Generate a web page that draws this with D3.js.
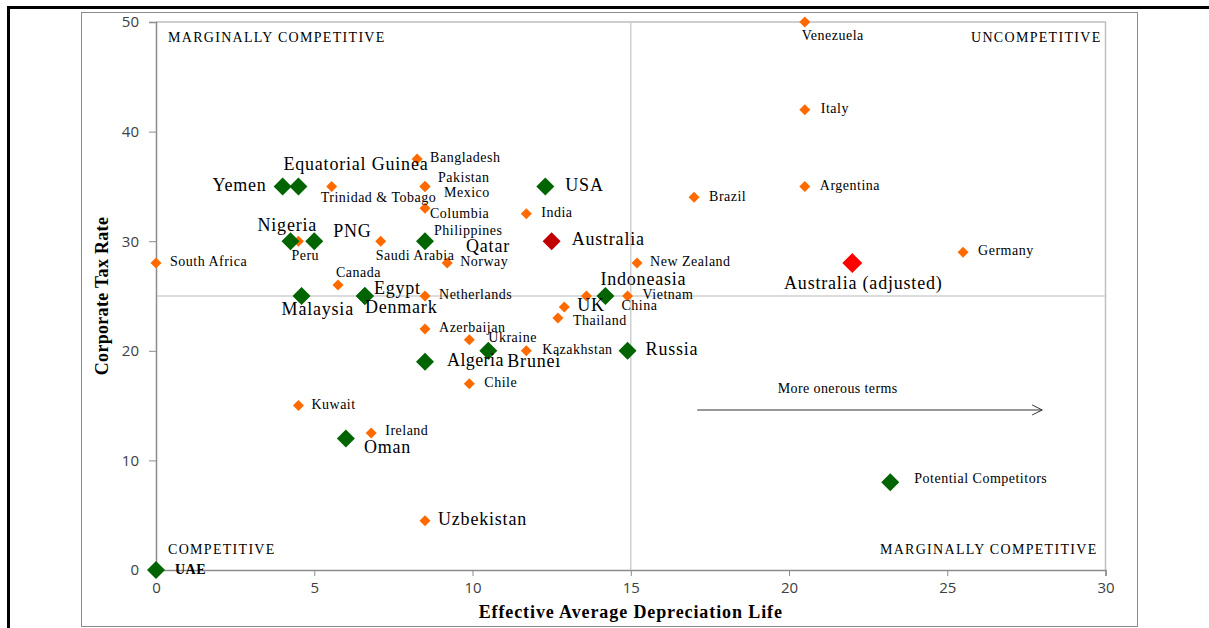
<!DOCTYPE html>
<html><head><meta charset="utf-8">
<script src="https://cdn.jsdelivr.net/npm/d3@7"></script>
<style>
html,body{margin:0;padding:0;background:#fff;}
svg{display:block;}
</style></head>
<body>
<svg id="chart" width="1209" height="628"></svg>
<script>
// ---- data ----
const otherNames = ["Venezuela","Italy","Argentina","Brazil","Germany","New Zealand","Vietnam","China","Bangladesh","Pakistan","Mexico","Trinidad & Tobago","Columbia","India","Saudi Arabia","Peru","South Africa","Norway","Canada","Netherlands","Azerbaijan","Ukraine","Kazakhstan","Chile","Kuwait","Ireland","Uzbekistan","UK","Thailand","Philippines"];
const otherDep   = [20.5,20.5,20.5,17.0,25.5,15.2,14.9,13.6,8.25,8.5,8.5,5.55,8.5,11.7,7.1,4.5,0,9.2,5.75,8.5,8.5,9.9,11.7,9.9,4.5,6.8,8.5,12.9,12.7,8.5];
const otherTax   = [50,42,35,34,29,28,25,25,37.5,35,35,35,33,32.5,30,30,28,28,26,25,22,21,20,17,15,12.5,4.5,24,23,30];

const compNames = ["Yemen","Equatorial Guinea","Nigeria","PNG","Qatar","USA","Malaysia","Egypt","Denmark","Algeria","Brunei","Indoneasia","Russia","Oman","UAE"];
const compDep   = [4.0,4.5,4.25,5.0,8.5,12.3,4.6,6.6,6.6,8.5,10.5,14.2,14.9,6.0,0];
const compTax   = [35,35,30,30,30,35,25,25,25,19,20,25,20,12,0];

const ausNames = ["Australia","Australia (adjusted)"];
const ausDep   = [12.5,22.0];
const ausTax   = [30,28];

const legendName = "Potential Competitors";
const legendDep = 23.2, legendTax = 8;

const xTicks = [0,5,10,15,20,25,30];
const yTicks = [0,10,20,30,40,50];
const quadX = 15, quadY = 25;
const arrowFrom = [17.1,14.6], arrowTo = [28.0,14.6];
const arrowText = "More onerous terms";
const quadLabels = ["MARGINALLY COMPETITIVE","UNCOMPETITIVE","COMPETITIVE","MARGINALLY COMPETITIVE"];
const xTitle = "Effective Average Depreciation Life";
const yTitle = "Corporate Tax Rate";

// ---- label layout (offsets in px from point) ----
const labelPos = {
 "Venezuela":[-3,15,"start"],"Italy":[16,0,"start"],"Argentina":[15,0,"start"],"Brazil":[15,0,"start"],
 "Germany":[15,0,"start"],"New Zealand":[13,0,"start"],"Vietnam":[15,0,"start"],"China":[35,11,"start"],
 "Bangladesh":[13,0,"start"],"Pakistan":[13,-8,"start"],"Mexico":[19,7,"start"],"Trinidad & Tobago":[-11,12,"start"],
 "Columbia":[5,6,"start"],"India":[15,0,"start"],"Saudi Arabia":[-5,16,"start"],"Peru":[-7,16,"start"],
 "South Africa":[14,0,"start"],"Norway":[13,0,"start"],"Canada":[-2,-11,"start"],"Netherlands":[14,0,"start"],
 "Azerbaijan":[14,0,"start"],"Ukraine":[19,-1,"start"],"Kazakhstan":[16,0,"start"],"Chile":[15,0,"start"],
 "Kuwait":[13,0,"start"],"Ireland":[14,-1,"start"],"Uzbekistan":[13,0,"start"],"UK":[13,0,"start"],
 "Thailand":[15,4,"start"],"Philippines":[9,-9,"start"],
 "Yemen":[-16,0,"end"],"Equatorial Guinea":[-15,-21,"start"],"Nigeria":[-33,-14,"start"],"PNG":[19,-8,"start"],
 "Qatar":[41,7,"start"],"USA":[20,0,"start"],"Malaysia":[-20,15,"start"],"Egypt":[9,-6,"start"],
 "Denmark":[0,13,"start"],"Algeria":[22,0,"start"],"Brunei":[19,12,"start"],"Indoneasia":[-5,-15,"start"],
 "Russia":[18,0,"start"],"Oman":[18,10,"start"],"UAE":[19,1,"start"],
 "Australia":[20,0,"start"],"Australia (adjusted)":[11,22,"middle"],
 "Potential Competitors":[24,-3,"start"]
};
const bigOther = new Set(["Uzbekistan","UK"]);

const svg = d3.select("#chart");
const W = 1209, H = 628;
svg.append("rect").attr("width",W).attr("height",H).attr("fill","#fff");

// frame
svg.append("rect").attr("x",81.5).attr("y",12.5).attr("width",1056).attr("height",614)
  .attr("fill","none").attr("stroke","#8c8c8c").attr("stroke-width",1);
svg.append("line").attr("x1",7).attr("x2",W).attr("y1",7.5).attr("y2",7.5).attr("stroke","#000").attr("stroke-width",3);
svg.append("line").attr("x1",8.5).attr("x2",8.5).attr("y1",6).attr("y2",H).attr("stroke","#000").attr("stroke-width",3);

const x = d3.scaleLinear().domain([0,30]).range([156,1105.5]);
const y = d3.scaleLinear().domain([0,50]).range([570,22]);

// plot border (top/right)
svg.append("path").attr("d",`M${x(0)},${y(50)}H${x(30)}V${y(0)}`)
  .attr("fill","none").attr("stroke","#bfbfbf").attr("stroke-width",1.5);

// quadrant lines
svg.append("line").attr("x1",x(quadX)).attr("x2",x(quadX)).attr("y1",y(0)).attr("y2",y(50))
  .attr("stroke","#d0d0d0").attr("stroke-width",1.5);
svg.append("line").attr("x1",x(0)).attr("x2",x(30)).attr("y1",y(quadY)).attr("y2",y(quadY))
  .attr("stroke","#d0d0d0").attr("stroke-width",1.5);

// axes
const tickFont = "'Open Sans', sans-serif";
const gx = svg.append("g").attr("transform",`translate(0,${y(0)})`)
  .call(d3.axisBottom(x).tickValues(xTicks).tickSize(6).tickPadding(6).tickFormat(d3.format("d")));
const gy = svg.append("g").attr("transform",`translate(${x(0)},0)`)
  .call(d3.axisLeft(y).tickValues(yTicks).tickSize(7).tickPadding(10).tickFormat(d3.format("d")));
[gx,gy].forEach(g=>{
  g.select(".domain").attr("stroke","#8c8c8c").attr("stroke-width",1.5);
  g.selectAll(".tick line").attr("stroke","#8c8c8c");
  g.selectAll(".tick text").attr("font-family",tickFont).attr("font-size",15).attr("fill","#404040");
});

// quadrant labels
const serif = "'Liberation Serif', 'Times New Roman', serif";
const ql = [
  [x(0)+12, y(50)+17, "start"],
  [x(30)-4, y(50)+17, "end"],
  [x(0)+12, y(0)-19, "start"],
  [x(30)-8, y(0)-19, "end"]
];
quadLabels.forEach((t,i)=>{
  svg.append("text").attr("x",ql[i][0]).attr("y",ql[i][1]).attr("text-anchor",ql[i][2])
   .attr("dominant-baseline","middle").attr("font-family",serif).attr("font-size",14)
   .attr("letter-spacing",1.3).attr("fill","#000").text(t);
});

// axis titles
svg.append("text").attr("x",(x(0)+x(30))/2).attr("y",614).attr("text-anchor","middle")
  .attr("dominant-baseline","middle").attr("font-family",serif).attr("font-weight","bold")
  .attr("font-size",18).attr("letter-spacing",0.9).attr("fill","#000").text(xTitle);
svg.append("text").attr("transform",`translate(104,${(y(0)+y(50))/2}) rotate(-90)`)
  .attr("text-anchor","middle").attr("dominant-baseline","middle").attr("font-family",serif)
  .attr("font-weight","bold").attr("font-size",18).attr("letter-spacing",0.3).attr("fill","#000").text(yTitle);

// arrow
svg.append("defs").append("marker").attr("id","arr").attr("viewBox","0 0 12 12")
  .attr("refX",11).attr("refY",6).attr("markerWidth",12).attr("markerHeight",12)
  .attr("markerUnits","userSpaceOnUse").attr("orient","auto")
  .append("path").attr("d","M1,1L11,6L1,11").attr("fill","none").attr("stroke","#333").attr("stroke-width",1);
svg.append("line").attr("x1",x(arrowFrom[0])).attr("y1",y(arrowFrom[1]))
  .attr("x2",x(arrowTo[0])).attr("y2",y(arrowTo[1]))
  .attr("stroke","#333").attr("stroke-width",1.2).attr("marker-end","url(#arr)");
svg.append("text").attr("x",(x(arrowFrom[0])+x(arrowTo[0]))/2 - 32).attr("y",y(arrowFrom[1])-20)
  .attr("text-anchor","middle").attr("dominant-baseline","middle").attr("font-family",serif)
  .attr("font-size",14).attr("letter-spacing",0.4).attr("fill","#000").text(arrowText);

const diamond = r => `M0,${-r}L${r},0L0,${r}L${-r},0Z`;

function drawSeries(names, xs, ys, color, r){
  const data = names.map((n,i)=>({n, xv:xs[i], yv:ys[i]}));
  svg.append("g").selectAll("path").data(data).join("path")
    .attr("d",diamond(r)).attr("transform",d=>`translate(${x(d.xv)},${y(d.yv)})`)
    .attr("fill",color);
  return data;
}
function drawLabels(data, fsizeFn, lsFn, weightFn){
  svg.append("g").selectAll("text").data(data).join("text")
    .attr("x",d=>x(d.xv)+labelPos[d.n][0]).attr("y",d=>y(d.yv)+labelPos[d.n][1])
    .attr("text-anchor",d=>labelPos[d.n][2]).attr("dominant-baseline","middle")
    .attr("font-family",serif).attr("font-size",fsizeFn).attr("letter-spacing",lsFn)
    .attr("font-weight",weightFn||"normal")
    .attr("fill","#000").text(d=>d.n);
}

const oData = drawSeries(otherNames, otherDep, otherTax, "#ff6a00", 5.5);
const cData = drawSeries(compNames, compDep, compTax, "#006400", 9);
const a1 = drawSeries([ausNames[0]],[ausDep[0]],[ausTax[0]],"#c00000",9);
const a2 = drawSeries([ausNames[1]],[ausDep[1]],[ausTax[1]],"#ff0000",10);
const lData = drawSeries([legendName],[legendDep],[legendTax],"#006400",9);

drawLabels(oData, d=>bigOther.has(d.n)?18:14, d=>bigOther.has(d.n)?0.8:0.5);
drawLabels(cData, d=>d.n==="UAE"?14:18, d=>d.n==="UAE"?0.5:(d.n==="Algeria"?0.4:0.8), d=>d.n==="UAE"?"bold":"normal");
drawLabels(a1.concat(a2), 18, 0.8);
drawLabels(lData, 14, 0.5);
</script>
</body></html>
